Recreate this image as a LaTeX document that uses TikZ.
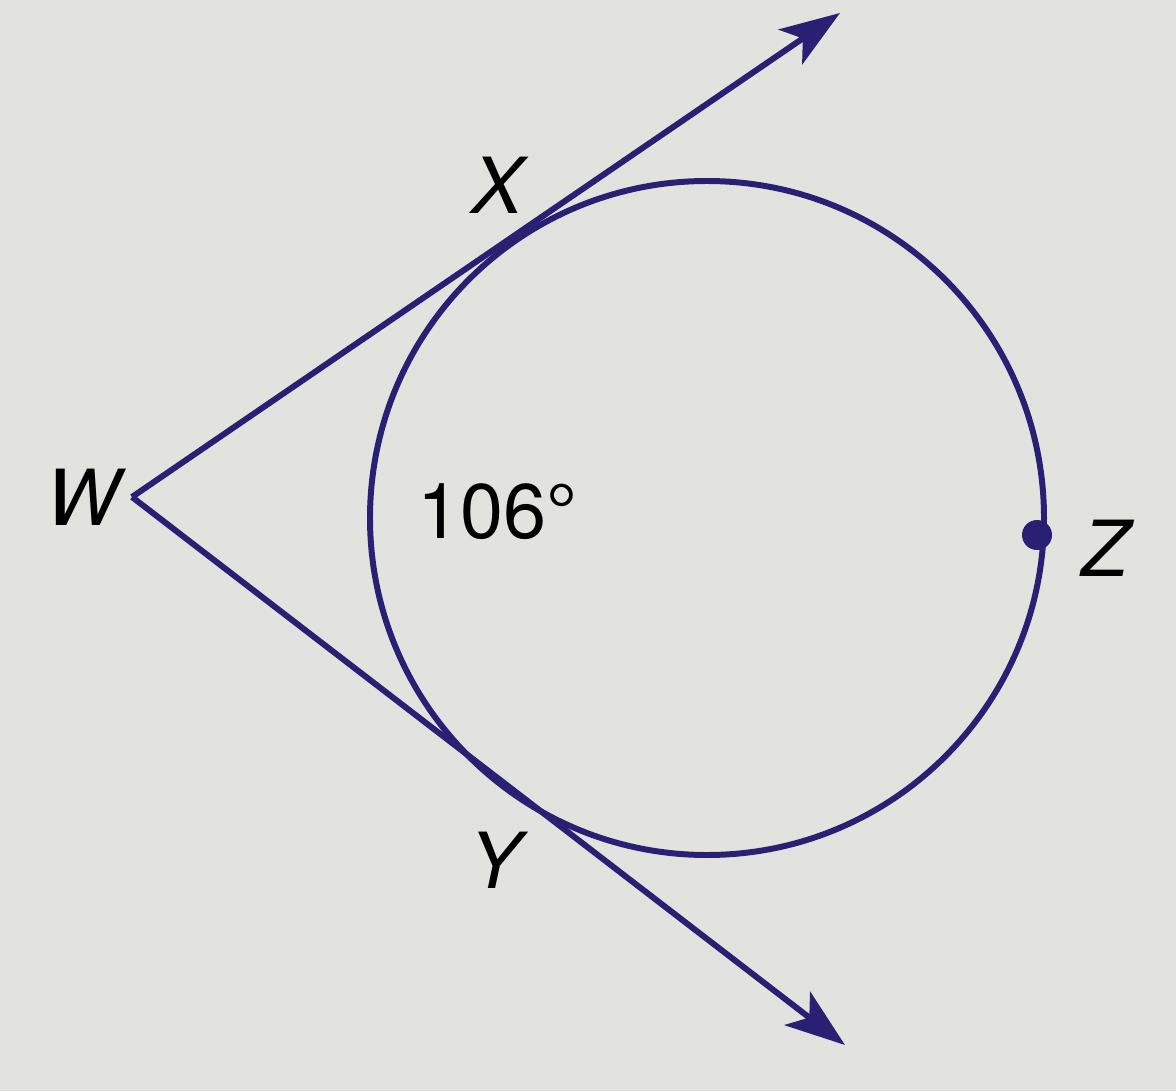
\documentclass[tikz,border=0pt]{standalone}
\usepackage{fontspec}
\setmainfont{TeX Gyre Heros}
\usetikzlibrary{arrows.meta}
\definecolor{ink}{RGB}{42,32,115}
\definecolor{paper}{RGB}{226,227,223}

\begin{document}
\begin{tikzpicture}[x=0.01cm,y=-0.01cm,
  line/.style={ink,line width=1.7pt},
  ray/.style={line,-{Stealth[length=0.6cm,width=0.42cm,inset=0.15cm]}},
  lbl/.style={font=\fontsize{22}{26}\selectfont\itshape}]
\fill[paper] (0,0) rectangle (1176,1091);
\useasboundingbox (0,0) rectangle (1176,1091);
\coordinate (c) at (707,518);
\coordinate (xtip) at (840,13);
\coordinate (ytip) at (845,1045);
\node (w) at (132,497) {};
\draw[line] (c) circle [radius=337];
\draw[ray] (w.center) -- (xtip);
\draw[ray] (w.center) -- (ytip);
\fill[ink] (1037,535) circle [radius=15] coordinate (z);
\node[lbl,left] (wl) at (w.center) {W};
\node[lbl] (xl) at (497,185) {X};
\node[lbl] (yl) at (495,860) {Y};
\node[lbl] (zl) at (1105,548) {Z};
\node[font=\fontsize{22}{26}\selectfont] (arc) at (497,512) {106°};
\end{tikzpicture}
\end{document}
